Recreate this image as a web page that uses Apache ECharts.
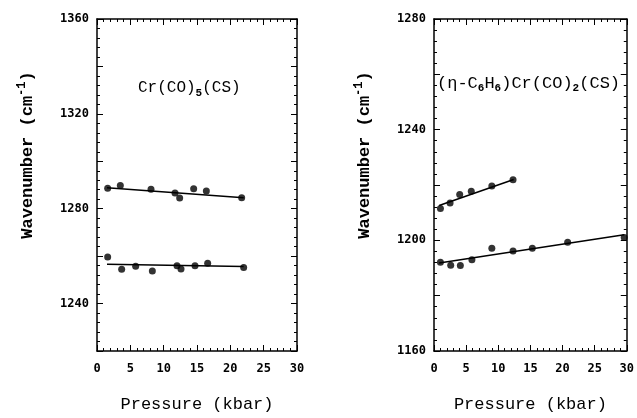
<!DOCTYPE html>
<html>
<head>
<meta charset="utf-8">
<script src="https://cdn.jsdelivr.net/npm/echarts@6/dist/echarts.min.js"></script>
<style>
  html, body { margin: 0; padding: 0; background: #fff; }
  #chart { width: 637px; height: 418px; }
</style>
</head>
<body>
<div id="chart"></div>
<script>
// Cr(CO)5(CS), two bands
const crHiP = [1.6, 3.5, 8.1, 11.7, 12.4, 14.5, 16.4, 21.7];
const crHiV = [1288.6, 1289.8, 1288.2, 1286.6, 1284.5, 1288.4, 1287.5, 1284.6];
const crLoP = [1.6, 3.7, 5.8, 8.3, 12.0, 12.6, 14.7, 16.6, 22.0];
const crLoV = [1259.6, 1254.5, 1255.7, 1253.7, 1256.0, 1254.6, 1256.0, 1257.0, 1255.2];
const crHiFit = [[1.5, 1288.8], [22, 1284.6]];
const crLoFit = [[1.5, 1256.6], [22, 1255.6]];

// (eta-C6H6)Cr(CO)2(CS), two bands
const bzHiP = [1.0, 2.5, 4.0, 5.8, 9.0, 12.3];
const bzHiV = [1211.5, 1213.5, 1216.6, 1217.7, 1219.6, 1221.9];
const bzLoP = [1.0, 2.6, 4.1, 5.9, 9.0, 12.3, 15.3, 20.8, 29.6];
const bzLoV = [1192.1, 1191.0, 1190.9, 1193.0, 1197.1, 1196.1, 1197.1, 1199.3, 1201.0];
const bzHiFit = [[0.8, 1212.6], [12.4, 1222.0]];
const bzLoFit = [[0.8, 1191.8], [29.6, 1202.0]];

const xTicks = [0, 5, 10, 15, 20, 25, 30];

const zip = (xs, ys) => xs.map((x, i) => [x, ys[i]]);

const labelFont = { fontFamily: 'DejaVu Sans Mono', fontWeight: 'bold', fontSize: 12, color: '#000' };
const nameFont = { fontFamily: 'Liberation Mono', fontSize: 17, color: '#000' };

const xAxis = (grid, pos) => ({
    type: 'value', gridIndex: grid, position: pos,
    min: xTicks[0], max: xTicks[xTicks.length - 1], interval: 5,
    name: pos === 'bottom' ? 'Pressure (kbar)' : '',
    nameLocation: 'middle', nameGap: 45,
    nameTextStyle: nameFont,
    axisLine: { show: true, onZero: false, lineStyle: { color: '#000', width: 1.5 } },
    axisTick: { inside: true, length: 6, lineStyle: { color: '#000' } },
    minorTick: { show: true, splitNumber: 5, length: 3, lineStyle: { color: '#000' } },
    axisLabel: Object.assign({ show: pos === 'bottom', margin: 12 }, labelFont),
    splitLine: { show: false }
});

const yAxis = (grid, pos, min, max) => ({
    type: 'value', gridIndex: grid, position: pos,
    min: min, max: max, interval: 20,
    name: pos === 'left' ? 'Wavenumber (cm{sup|-1})' : '',
    nameLocation: 'middle', nameGap: 57, nameRotate: 90,
    nameTextStyle: Object.assign({}, nameFont, {
        fontWeight: 'bold', padding: [0, 0, 0, 60],
        rich: { sup: { fontFamily: 'Liberation Mono', fontWeight: 'bold', fontSize: 12, padding: [0, 0, 12, 0] } }
    }),
    axisLine: { show: true, onZero: false, lineStyle: { color: '#000', width: 1.5 } },
    axisTick: { inside: true, length: 6, lineStyle: { color: '#000' } },
    minorTick: { show: true, splitNumber: 5, length: 3, lineStyle: { color: '#000' } },
    axisLabel: Object.assign({
        show: pos === 'left', margin: 8,
        formatter: v => (v % 40 === 0 ? String(v) : '')
    }, labelFont),
    splitLine: { show: false }
});

const dots = (xi, yi, data) => ({
    type: 'scatter', xAxisIndex: xi, yAxisIndex: yi, data: data,
    symbol: 'circle', symbolSize: 7, itemStyle: { color: '#000' }
});
const fit = (xi, yi, data) => ({
    type: 'line', xAxisIndex: xi, yAxisIndex: yi, data: data,
    showSymbol: false, lineStyle: { color: '#000', width: 1.5 }
});

const myChart = echarts.init(document.getElementById('chart'));
let option = {
    animation: false,
    backgroundColor: '#fff',
    grid: [
        { left: 97, top: 19, width: 200, height: 344 },
        { left: 434, top: 19, width: 194, height: 344 }
    ],
    xAxis: [xAxis(0, 'bottom'), xAxis(0, 'top'), xAxis(1, 'bottom'), xAxis(1, 'top')],
    yAxis: [
        yAxis(0, 'left', 1220, 1360), yAxis(0, 'right', 1220, 1360),
        yAxis(1, 'left', 1160, 1280), yAxis(1, 'right', 1160, 1280)
    ],
    series: [
        dots(0, 0, zip(crHiP, crHiV)), fit(0, 0, crHiFit),
        dots(0, 0, zip(crLoP, crLoV)), fit(0, 0, crLoFit),
        dots(2, 2, zip(bzHiP, bzHiV)), fit(2, 2, bzHiFit),
        dots(2, 2, zip(bzLoP, bzLoV)), fit(2, 2, bzLoFit)
    ],
    graphic: [
        {
            type: 'text', left: 138, top: 80,
            style: {
                text: 'Cr(CO){sub|5}(CS)',
                fontFamily: 'Liberation Mono', fontSize: 16, fill: '#000',
                rich: { sub: { fontFamily: 'Liberation Mono', fontSize: 11, fontWeight: 'bold', padding: [10, 0, 0, 0] } }
            }
        },
        {
            type: 'text', left: 437, top: 75,
            style: {
                text: '(η-C{sub|6}H{sub|6})Cr(CO){sub|2}(CS)',
                fontFamily: 'Liberation Mono', fontSize: 17, fill: '#000',
                rich: { sub: { fontFamily: 'Liberation Mono', fontSize: 11, fontWeight: 'bold', padding: [10, 0, 0, 0] } }
            }
        }
    ]
};
myChart.setOption(option);
window.addEventListener('resize', () => {
    myChart.resize();
});
</script>
</body>
</html>
